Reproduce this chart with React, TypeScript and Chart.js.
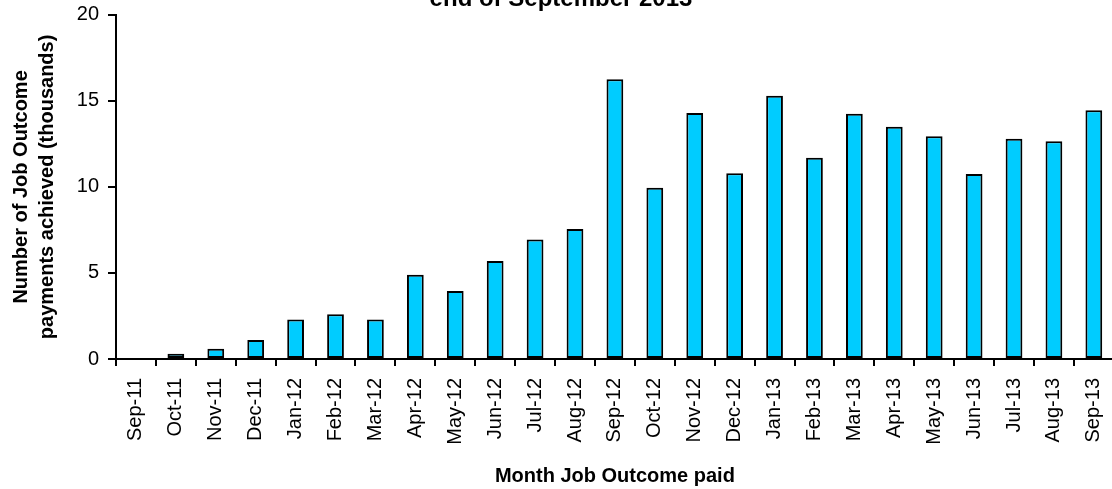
import React, { useEffect, useRef } from "react";
import { Chart, registerables } from "chart.js";

Chart.register(...registerables);

const months = [
  "Sep-11", "Oct-11", "Nov-11", "Dec-11", "Jan-12", "Feb-12", "Mar-12", "Apr-12",
  "May-12", "Jun-12", "Jul-12", "Aug-12", "Sep-12", "Oct-12", "Nov-12", "Dec-12",
  "Jan-13", "Feb-13", "Mar-13", "Apr-13", "May-13", "Jun-13", "Jul-13", "Aug-13", "Sep-13",
];

const payments = [
  0.05, 0.3, 0.6, 1.1, 2.3, 2.6, 2.3, 4.9,
  3.95, 5.7, 6.95, 7.55, 16.25, 9.95, 14.3, 10.8,
  15.3, 11.7, 14.25, 13.5, 12.95, 10.75, 12.8, 12.65, 14.45,
];

const titleLines = [
  "Job Outcome payments achieved by month, from the start of the scheme to the",
  "end of September 2013",
];
const yTitleLines = ["Number of Job Outcome", "payments achieved (thousands)"];
const xTitle = "Month Job Outcome paid";

const W = 1130;
const T = 40;
const H = 489 + T;

export default function App() {
  const ref = useRef<HTMLCanvasElement | null>(null);

  useEffect(() => {
    if (!ref.current) return;
    const font = "'Liberation Sans', Arial, Helvetica, sans-serif";
    Chart.defaults.font.family = font;
    Chart.defaults.color = "#000";
    const chart = new Chart(ref.current, {
      type: "bar",
      data: {
        labels: months,
        datasets: [
          {
            data: payments,
            backgroundColor: "#00CCFF",
            borderColor: "#000000",
            borderWidth: 2,
            borderSkipped: false,
            categoryPercentage: 1,
            barPercentage: 0.42,
          },
        ],
      },
      options: {
        responsive: false,
        animation: false,
        layout: { padding: { left: 0, right: 8, top: 0, bottom: 0 } },
        plugins: {
          legend: { display: false },
          tooltip: { enabled: false },
          title: {
            display: true,
            text: titleLines,
            color: "#000",
            font: { size: 24, weight: "bold", lineHeight: 1.1 },
            padding: { top: 0, bottom: 2 },
          },
        },
        scales: {
          x: {
            afterFit: (s: any) => {
              s.height = 130;
            },
            border: { color: "#000", width: 2 },
            grid: {
              offset: true,
              drawOnChartArea: false,
              drawTicks: true,
              tickLength: 7,
              color: "#000",
              lineWidth: 2,
            },
            ticks: {
              autoSkip: false,
              minRotation: 90,
              maxRotation: 90,
              padding: 12,
              color: "#000",
              font: { size: 20 },
            },
            title: {
              display: true,
              text: xTitle,
              color: "#000",
              font: { size: 20, weight: "bold", lineHeight: 1.2 },
              padding: { top: 0, bottom: 1 },
            },
          },
          y: {
            min: 0,
            max: 20,
            afterFit: (s: any) => {
              s.width = 116;
            },
            border: { color: "#000", width: 2 },
            grid: {
              drawOnChartArea: false,
              drawTicks: true,
              tickLength: 8,
              color: "#000",
              lineWidth: 2,
            },
            ticks: {
              stepSize: 5,
              padding: 9,
              color: "#000",
              font: { size: 20 },
            },
            title: {
              display: true,
              text: yTitleLines,
              color: "#000",
              font: { size: 20, weight: "bold", lineHeight: 1.3 },
              padding: { top: 8, bottom: 0 },
            },
          },
        },
      },
    });
    return () => chart.destroy();
  }, []);

  return (
    <div
      style={{
        position: "absolute",
        left: 0,
        top: 0,
        width: 1112,
        height: 489,
        overflow: "hidden",
        background: "#fff",
      }}
    >
      <canvas
        ref={ref}
        width={W}
        height={H}
        style={{ position: "absolute", left: 0, top: -T, width: W, height: H }}
      />
    </div>
  );
}
